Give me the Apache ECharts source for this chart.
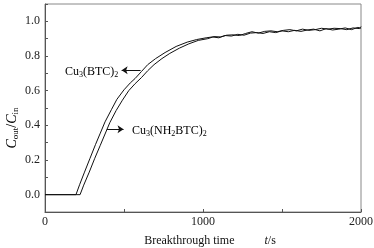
<!DOCTYPE html>
<html>
<head>
<meta charset="utf-8">
<script src="https://cdn.jsdelivr.net/npm/echarts@6/dist/echarts.min.js"></script>
<style>
  html, body { margin: 0; padding: 0; background: #fff; }
  #chart { width: 374px; height: 248px; }
</style>
</head>
<body>
<div id="chart"></div>
<script>
// Cu3(BTC)2 breakthrough curve
const btcTime = [0, 196, 220, 250, 285, 320, 350, 380, 420, 455, 500, 540, 570, 610, 650, 700, 760, 830, 900, 960,
  1020, 1060, 1100, 1140, 1180, 1220, 1260, 1300, 1340, 1380, 1420, 1460, 1500, 1540, 1580, 1620, 1660, 1700,
  1740, 1780, 1820, 1860, 1900, 1940, 1980, 2000];
const btcValue = [0, 0, 0.06, 0.13, 0.21, 0.29, 0.355, 0.42, 0.49, 0.55, 0.605, 0.645, 0.67, 0.71, 0.75, 0.785, 0.82, 0.855, 0.88, 0.895,
  0.905, 0.91, 0.905, 0.918, 0.915, 0.925, 0.92, 0.932, 0.935, 0.93, 0.94, 0.935, 0.945, 0.94, 0.948, 0.942, 0.95, 0.955,
  0.945, 0.958, 0.95, 0.955, 0.962, 0.952, 0.965, 0.96];
// Cu3(NH2BTC)2 breakthrough curve
const nh2Time = [0, 222, 245, 280, 315, 350, 380, 410, 450, 490, 530, 570, 610, 650, 690, 740, 790, 850, 910, 970,
  1030, 1070, 1110, 1150, 1190, 1230, 1270, 1310, 1350, 1390, 1430, 1470, 1510, 1550, 1590, 1630, 1670, 1710,
  1750, 1790, 1830, 1870, 1910, 1950, 1990, 2000];
const nh2Value = [0, 0, 0.055, 0.13, 0.21, 0.285, 0.35, 0.415, 0.485, 0.545, 0.6, 0.64, 0.675, 0.715, 0.75, 0.785, 0.815, 0.845, 0.87, 0.89,
  0.9, 0.912, 0.91, 0.92, 0.922, 0.918, 0.93, 0.94, 0.932, 0.942, 0.945, 0.94, 0.948, 0.952, 0.945, 0.955, 0.948, 0.952,
  0.96, 0.955, 0.96, 0.958, 0.952, 0.962, 0.958, 0.97];

const serif = 'Liberation Serif';
const ink = '#111';
const axisColor = '#555';

const pair = (ts, vs) => ts.map((t, i) => [t, vs[i]]);

const formulaRich = {
  n: { fontFamily: serif, fontSize: 12, lineHeight: 14, color: ink },
  s: { fontFamily: serif, fontSize: 8, lineHeight: 8, color: ink, verticalAlign: 'bottom', padding: [8, 0, 0, 0] }
};

let chart = echarts.init(document.getElementById('chart'));
let option = {
  animation: false,
  backgroundColor: '#fff',
  grid: {
    left: 45, right: 13, top: 4, bottom: 36,
    outerBoundsMode: 'none',
    containLabel: false,
    show: true,
    borderColor: '#888',
    borderWidth: 1
  },
  xAxis: {
    type: 'value',
    min: 0, max: 2000, interval: 500,
    axisLine: { onZero: false, lineStyle: { color: axisColor } },
    axisTick: { inside: true, length: 3, lineStyle: { color: axisColor } },
    splitLine: { show: false },
    axisLabel: {
      fontFamily: serif, fontSize: 12, color: '#222', margin: 4,
      formatter: v => (v % 1000 === 0 ? String(v) : '')
    },
    name: '{n|Breakthrough time}{g|}{i|t}{n|/s}',
    nameLocation: 'middle',
    nameGap: 23,
    nameTextStyle: {
      rich: {
        n: { fontFamily: serif, fontSize: 12, color: ink },
        i: { fontFamily: serif, fontSize: 12, color: ink, fontStyle: 'italic' },
        g: { width: 30 }
      },
      padding: [0, 0, 0, 14]
    }
  },
  yAxis: {
    type: 'value',
    min: -0.1, max: 1.1, interval: 0.1,
    axisLine: { show: true, lineStyle: { color: axisColor } },
    axisTick: { show: true, inside: true, length: 3, lineStyle: { color: axisColor } },
    splitLine: { show: false },
    axisLabel: {
      fontFamily: serif, fontSize: 12, color: '#222', margin: 5,
      formatter: v => (Math.round(v * 10) % 2 === 0 ? v.toFixed(1) : '')
    }
  },
  graphic: [
    {
      type: 'text',
      x: 12, y: 128,
      rotation: Math.PI / 2,
      style: {
        text: '{c|C}{s|out}{n|/}{c|C}{s|in}',
        rich: {
          c: { fontFamily: serif, fontSize: 14, lineHeight: 16, color: ink, fontStyle: 'italic' },
          n: { fontFamily: serif, fontSize: 14, lineHeight: 16, color: ink },
          s: { fontFamily: serif, fontSize: 9, lineHeight: 9, color: ink, verticalAlign: 'bottom', padding: [9, 0, 0, 0] }
        },
        align: 'center',
        verticalAlign: 'middle'
      }
    },
    {
      type: 'text',
      x: 65, y: 72,
      style: {
        text: '{n|Cu}{s|3}{n|(BTC)}{s|2}',
        rich: formulaRich,
        align: 'left',
        verticalAlign: 'middle'
      }
    },
    {
      type: 'text',
      x: 132, y: 131,
      style: {
        text: '{n|Cu}{s|3}{n|(NH}{s|2}{n|BTC)}{s|2}',
        rich: formulaRich,
        align: 'left',
        verticalAlign: 'middle'
      }
    }
  ],
  series: [
    {
      name: 'Cu3(BTC)2',
      type: 'line',
      data: pair(btcTime, btcValue),
      showSymbol: false,
      lineStyle: { color: ink, width: 1 },
      z: 3,
      markLine: {
        silent: true,
        symbol: ['none', 'arrow'],
        symbolSize: [6, 6],
        lineStyle: { color: ink, width: 1, type: 'solid' },
        label: { show: false },
        data: [[{ coord: [605, 0.718] }, { coord: [485, 0.718] }]]
      }
    },
    {
      name: 'Cu3(NH2BTC)2',
      type: 'line',
      data: pair(nh2Time, nh2Value),
      showSymbol: false,
      lineStyle: { color: ink, width: 1 },
      z: 3,
      markLine: {
        silent: true,
        symbol: ['none', 'arrow'],
        symbolSize: [6, 6],
        lineStyle: { color: ink, width: 1, type: 'solid' },
        label: { show: false },
        data: [[{ coord: [392, 0.377] }, { coord: [497, 0.377] }]]
      }
    }
  ]
};
chart.setOption(option);
</script>
</body>
</html>
